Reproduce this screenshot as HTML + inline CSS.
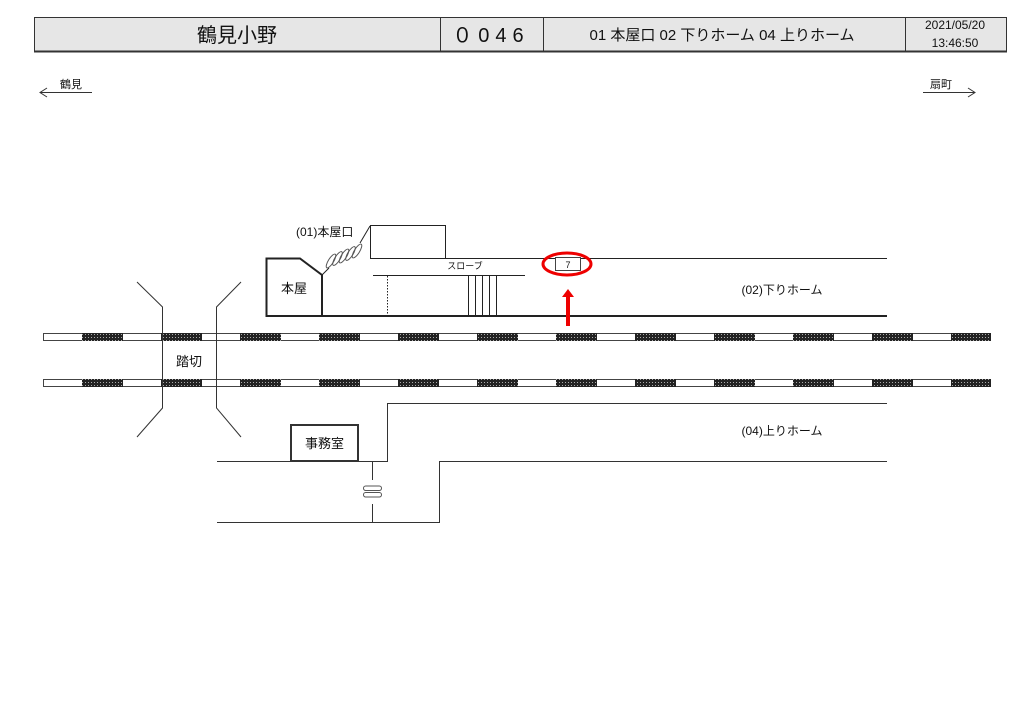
<!DOCTYPE html>
<html><head><meta charset="utf-8"><style>
html,body{margin:0;padding:0;background:#fff;}
svg{display:block;font-family:"Liberation Sans","Noto Sans CJK JP",sans-serif;}
</style></head><body>
<svg width="1024" height="724" viewBox="0 0 1024 724" xmlns="http://www.w3.org/2000/svg">
<defs>
<pattern id="dots" width="3" height="3" patternUnits="userSpaceOnUse">
<rect width="3" height="3" fill="#222"/><rect x="1" y="1" width="1" height="1" fill="#aaa"/>
</pattern>
</defs>
<rect x="34.5" y="17.5" width="972" height="34" fill="#e6e6e6" stroke="#333" stroke-width="1"/>
<line x1="440.5" y1="17" x2="440.5" y2="51" stroke="#333"/>
<line x1="543.5" y1="17" x2="543.5" y2="51" stroke="#333"/>
<line x1="905.5" y1="17" x2="905.5" y2="51" stroke="#333"/>
<line x1="34" y1="51.5" x2="1007" y2="51.5" stroke="#333" stroke-width="2"/>
<text x="237" y="42" font-size="20" text-anchor="middle" fill="#111">鶴見小野</text>
<text x="491" y="42" font-size="20" text-anchor="middle" fill="#111" letter-spacing="6">０046</text>
<text x="722" y="40" font-size="15" text-anchor="middle" fill="#111">01 本屋口 02 下りホーム 04 上りホーム</text>
<text x="955" y="29" font-size="12" text-anchor="middle" fill="#111">2021/05/20</text>
<text x="955" y="47" font-size="12" text-anchor="middle" fill="#111">13:46:50</text>
<g stroke="#333" fill="none">
<line x1="40" y1="92.5" x2="92" y2="92.5"/><polyline points="47,88 40,92.5 47,97"/>
<line x1="923" y1="92.5" x2="975" y2="92.5"/><polyline points="968,88 975,92.5 968,97"/>
</g>
<text x="60" y="88" font-size="11" fill="#111">鶴見</text>
<text x="930" y="88" font-size="11" fill="#111">扇町</text>
<g stroke="#444" fill="#fff">
<rect x="43.5" y="333.5" width="947" height="7"/>
<rect x="43.5" y="379.5" width="947" height="7"/>
</g>
<g fill="url(#dots)">
<rect x="82" y="333" width="41" height="8"/><rect x="161" y="333" width="41" height="8"/><rect x="240" y="333" width="41" height="8"/><rect x="319" y="333" width="41" height="8"/><rect x="398" y="333" width="41" height="8"/><rect x="477" y="333" width="41" height="8"/><rect x="556" y="333" width="41" height="8"/><rect x="635" y="333" width="41" height="8"/><rect x="714" y="333" width="41" height="8"/><rect x="793" y="333" width="41" height="8"/><rect x="872" y="333" width="41" height="8"/><rect x="951" y="333" width="40" height="8"/>
<rect x="82" y="379" width="41" height="8"/><rect x="161" y="379" width="41" height="8"/><rect x="240" y="379" width="41" height="8"/><rect x="319" y="379" width="41" height="8"/><rect x="398" y="379" width="41" height="8"/><rect x="477" y="379" width="41" height="8"/><rect x="556" y="379" width="41" height="8"/><rect x="635" y="379" width="41" height="8"/><rect x="714" y="379" width="41" height="8"/><rect x="793" y="379" width="41" height="8"/><rect x="872" y="379" width="41" height="8"/><rect x="951" y="379" width="40" height="8"/>
</g>
<g stroke="#333" fill="none" stroke-width="1">
<polyline points="137,282 162.5,307 162.5,408 137,437"/>
<polyline points="241,282 216.5,307 216.5,408 241,437"/>
</g>
<text x="189" y="366" font-size="13" text-anchor="middle" fill="#111">踏切</text>
<g stroke="#222" fill="none">
<line x1="267" y1="316" x2="887" y2="316" stroke-width="2"/>
<line x1="371" y1="258.5" x2="887" y2="258.5"/>
<polygon points="266.5,258.5 300,258.5 322,275 322,316 266.5,316" stroke-width="2" fill="#fff"/>
<rect x="370.5" y="225.5" width="75" height="33" fill="#fff"/>
<line x1="373" y1="275.5" x2="525" y2="275.5"/>
<line x1="387.5" y1="276" x2="387.5" y2="316" stroke-dasharray="1.5,1.5"/>
<line x1="468.5" y1="276" x2="468.5" y2="316"/><line x1="475.5" y1="276" x2="475.5" y2="316"/><line x1="482.5" y1="276" x2="482.5" y2="316"/><line x1="489.5" y1="276" x2="489.5" y2="316"/><line x1="496.5" y1="276" x2="496.5" y2="316"/>
<line x1="322" y1="275" x2="329" y2="268"/>
<line x1="360" y1="243" x2="370" y2="226"/>
<g stroke="#555" fill="none">
<ellipse cx="0" cy="0" rx="8" ry="2.6" transform="translate(331,261) rotate(-58)"/>
<ellipse cx="0" cy="0" rx="8" ry="2.6" transform="translate(337.5,258.5) rotate(-58)"/>
<ellipse cx="0" cy="0" rx="8" ry="2.6" transform="translate(344,256) rotate(-58)"/>
<ellipse cx="0" cy="0" rx="8" ry="2.6" transform="translate(350.5,253.5) rotate(-58)"/>
<ellipse cx="0" cy="0" rx="8" ry="2.6" transform="translate(357,251) rotate(-58)"/>
</g>
<rect x="555.5" y="257.5" width="25" height="13" stroke="#444" fill="#fff"/>
</g>
<text x="296" y="236" font-size="12" fill="#111">(01)本屋口</text>
<text x="294" y="293" font-size="13" text-anchor="middle" fill="#111">本屋</text>
<text x="465" y="269" font-size="9" text-anchor="middle" fill="#111">スローブ</text>
<text x="568" y="268" font-size="9" text-anchor="middle" fill="#111">7</text>
<ellipse cx="567" cy="264" rx="24" ry="11" fill="none" stroke="#e00" stroke-width="3"/>
<line x1="568" y1="326" x2="568" y2="296" stroke="#e00" stroke-width="4"/>
<polygon points="562,297 568,289 574,297" fill="#e00"/>
<text x="782" y="294" font-size="12" text-anchor="middle" fill="#111">(02)下りホーム</text>
<g stroke="#333" fill="none">
<polyline points="887,403.5 387.5,403.5 387.5,461.5 217,461.5"/>
<polyline points="217,522.5 439.5,522.5 439.5,461.5 887,461.5"/>
<rect x="291" y="425" width="67" height="36" stroke-width="2" fill="#fff"/>
<line x1="372.5" y1="462" x2="372.5" y2="480"/>
<line x1="372.5" y1="504" x2="372.5" y2="522"/>
<rect x="363.5" y="486" width="18" height="4.5" rx="2.2" stroke="#555"/>
<rect x="363.5" y="492.5" width="18" height="4.5" rx="2.2" stroke="#555"/>
</g>
<text x="324.5" y="448" font-size="13" text-anchor="middle" fill="#111">事務室</text>
<text x="782" y="435" font-size="12" text-anchor="middle" fill="#111">(04)上りホーム</text>
</svg>
</body></html>
